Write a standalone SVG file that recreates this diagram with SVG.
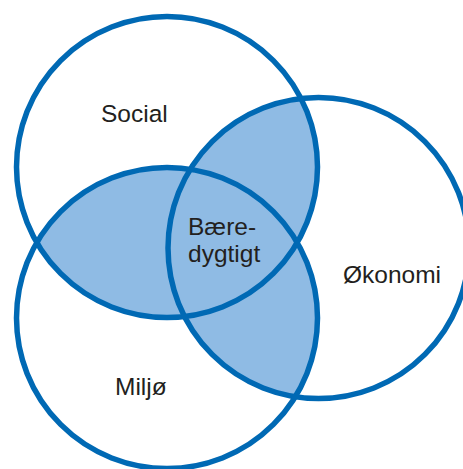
<svg xmlns="http://www.w3.org/2000/svg" width="463" height="469" viewBox="0 0 463 469">
  <style>
    .ring { fill: none; stroke: #0069b4; stroke-width: 5.5; }
    .lens { fill: #8fbbe4; }
    .lbl { font-family: "Liberation Sans", Arial, sans-serif; font-size: 24.5px; fill: #231f20; }
  </style>
  <defs>
    <clipPath id="clipS"><circle cx="167" cy="167" r="150.5"/></clipPath>
    <clipPath id="clipO"><circle cx="318.5" cy="248" r="150.5"/></clipPath>
  </defs>
  <rect width="463" height="469" fill="#ffffff"/>
  <g id="overlaps">
    <circle class="lens" cx="318.5" cy="248" r="150.5" clip-path="url(#clipS)"/>
    <circle class="lens" cx="167" cy="318" r="150.5" clip-path="url(#clipS)"/>
    <circle class="lens" cx="167" cy="318" r="150.5" clip-path="url(#clipO)"/>
  </g>
  <g id="social">
    <circle class="ring" cx="167" cy="167" r="150.5"/>
    <text class="lbl" x="101" y="122">Social</text>
  </g>
  <g id="okonomi">
    <circle class="ring" cx="318.5" cy="248" r="150.5"/>
    <text class="lbl" x="343" y="283">Økonomi</text>
  </g>
  <g id="miljo">
    <circle class="ring" cx="167" cy="318" r="150.5"/>
    <text class="lbl" x="115" y="395">Miljø</text>
  </g>
  <g id="baeredygtigt">
    <text class="lbl" x="188" y="235">Bære-</text>
    <text class="lbl" x="188" y="262">dygtigt</text>
  </g>
</svg>
